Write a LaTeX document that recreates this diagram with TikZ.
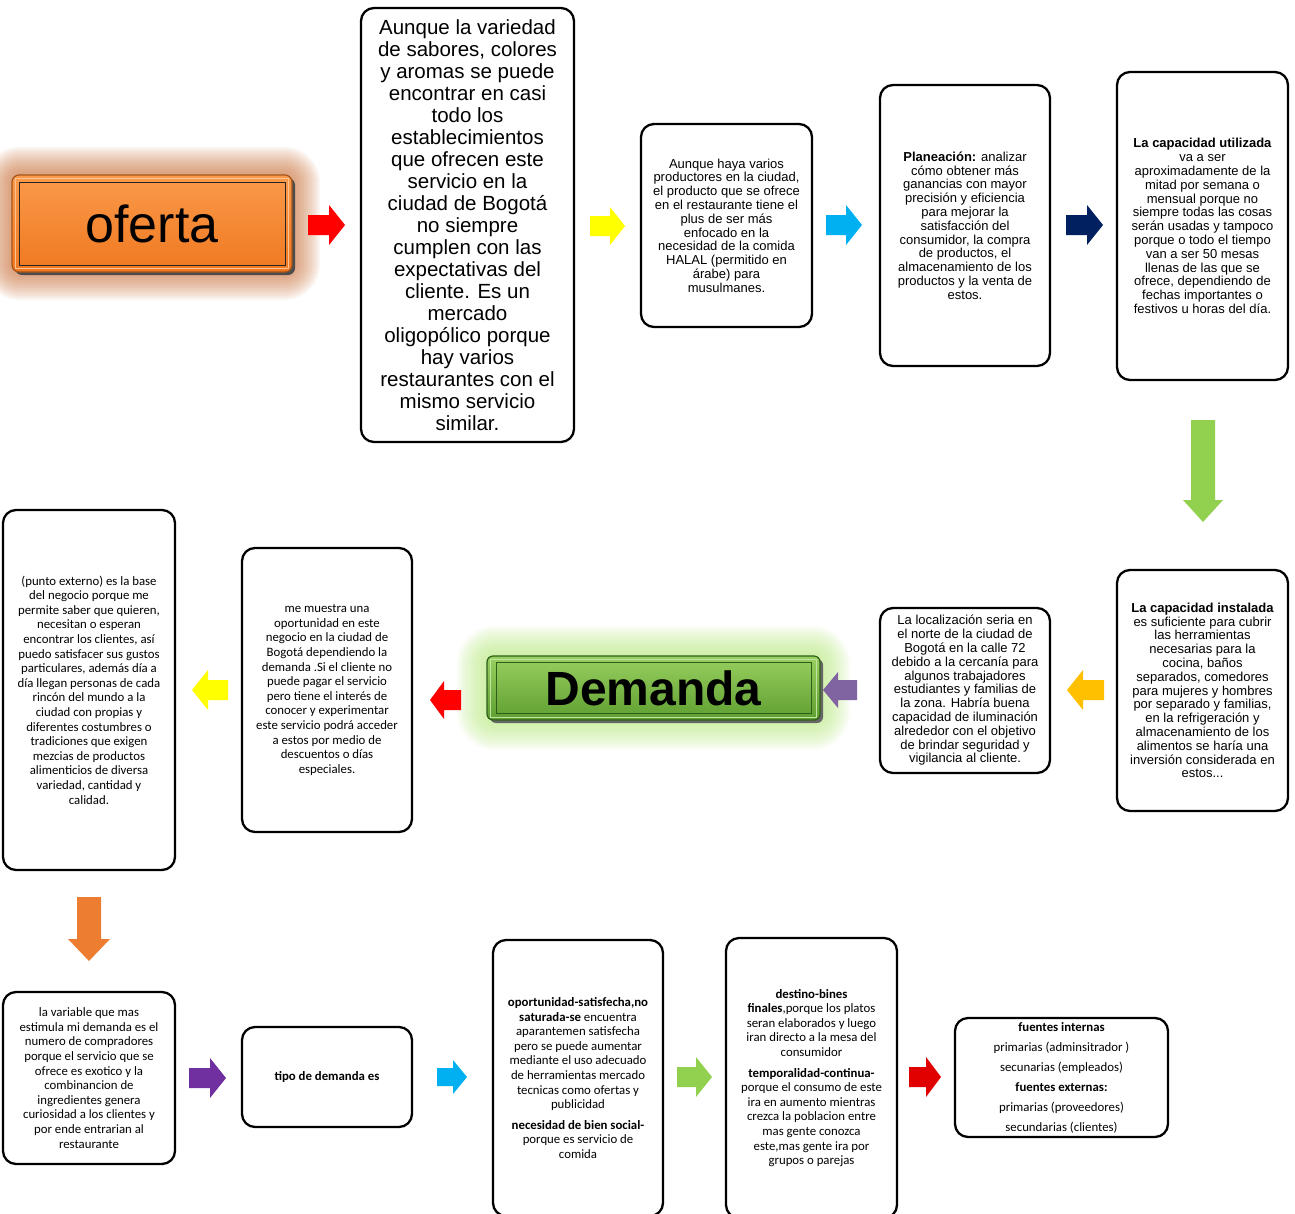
\documentclass[tikz,border=0pt]{standalone}
\usepackage{fontspec}
\setmainfont{Liberation Sans}
\newfontfamily\calfont{Carlito}
\definecolor{cRed}{HTML}{FF0000}
\definecolor{cYellow}{HTML}{FFFF00}
\definecolor{cCyan}{HTML}{00B0F0}
\definecolor{cNavy}{HTML}{002060}
\definecolor{cGreen}{HTML}{92D050}
\definecolor{cGold}{HTML}{FFC000}
\definecolor{cLPurple}{HTML}{8064A2}
\definecolor{cOrange}{HTML}{ED7D31}
\definecolor{cPurple}{HTML}{7030A0}
\definecolor{cDRed}{HTML}{E00000}
\definecolor{ofTop}{HTML}{FA9A4A}
\definecolor{ofBot}{HTML}{F07820}
\definecolor{ofEdge}{HTML}{A85418}
\definecolor{ofGlow}{HTML}{C8703A}
\definecolor{deTop}{HTML}{98D060}
\definecolor{deBot}{HTML}{5E9E30}
\definecolor{deEdge}{HTML}{2E5E18}
\definecolor{deGlow}{HTML}{B8E880}
\newcommand\barr[8]{%
  \fill[#8, shift={(#1,#2)}, rotate=#7]
    ({-#3/2},{-#5/2}) -- ({#3/2-#6},{-#5/2}) -- ({#3/2-#6},{-#4/2}) -- ({#3/2},0)
    -- ({#3/2-#6},{#4/2}) -- ({#3/2-#6},{#5/2}) -- ({-#3/2},{#5/2}) -- cycle;}
\begin{document}
\begin{tikzpicture}[x=1pt,y=1pt,
  box/.style={draw=black, line width=2.3pt, rounded corners=13pt, fill=white, inner sep=0pt, align=center},
  ar/.style={font=\fontsize{13}{13.8}\selectfont},
  big/.style={font=\fontsize{20.5}{22}\selectfont},
  cb/.style={font=\calfont\fontsize{12.8}{14.6}\selectfont},
  cbw/.style={font=\calfont\fontsize{12.8}{20}\selectfont},
]
\useasboundingbox (0,0) rectangle (1295,-1213);

% ---------- glows ----------
\foreach \i in {1,...,14}
  \fill[ofGlow, opacity=0.07, rounded corners={8+2*\i}]
    ({12-2*\i},{-175+2*\i}) rectangle ({292+2*\i},{-272-2*\i});
\foreach \i in {1,...,15}
  \fill[deGlow, opacity=0.07, rounded corners={8+2*\i}]
    ({487-2*\i},{-656+2*\i}) rectangle ({820+2*\i},{-720-2*\i});

% ---------- oferta ----------
\fill[black!70, rounded corners=7] (15,-178) rectangle (295,-275);
\node (oferta) [minimum width=280, minimum height=97, inner sep=0pt, rounded corners=7,
  top color=ofTop, bottom color=ofBot, draw=ofEdge, line width=1.2,
  font=\fontsize{52}{54}\selectfont] at (152,-223.5) {oferta};
\draw[black!85, line width=1.3] ([shift={(8,-8)}]oferta.north west) rectangle ([shift={(-7,7)}]oferta.south east);
\draw[ofTop!60!white, line width=0.8] ([shift={(4,-4)}]oferta.north west) rectangle ([shift={(-4,4)}]oferta.south east);

% ---------- Demanda ----------
\fill[black!60, rounded corners=6] (490,-659) rectangle (823,-723);
\node (demanda) [minimum width=333, minimum height=64, inner sep=0pt, rounded corners=6,
  top color=deTop, bottom color=deBot, draw=deEdge, line width=1.2,
  font=\bfseries\fontsize{48}{50}\selectfont] at (653.5,-688) {Demanda};
\draw[deEdge, line width=1.5] ([shift={(10,-7)}]demanda.north west) rectangle ([shift={(-9,7)}]demanda.south east);
\draw[deTop!60!white, line width=0.8] ([shift={(4,-3.5)}]demanda.north west) rectangle ([shift={(-4,3.5)}]demanda.south east);

% ---------- top row ----------
\node (b1) [box, big, minimum width=213, minimum height=434] at (467.5,-225) {Aunque la variedad\\de sabores, colores\\y aromas se puede\\encontrar en casi\\todo los\\establecimientos\\que ofrecen este\\servicio en la\\ciudad de Bogotá\\no siempre\\cumplen con las\\expectativas del\\cliente. Es un\\mercado\\oligopólico porque\\hay varios\\restaurantes con el\\mismo servicio\\similar.};

\node (b2) [box, ar, minimum width=171, minimum height=203] at (726.5,-225.5) {Aunque haya varios\\productores en la ciudad,\\el producto que se ofrece\\en el restaurante tiene el\\plus de ser más\\enfocado en la\\necesidad de la comida\\HALAL (permitido en\\árabe) para\\musulmanes.};

\node (b3) [box, ar, minimum width=170, minimum height=281] at (965,-225.5) {\textbf{Planeación:} analizar\\cómo obtener más\\ganancias con mayor\\precisión y eficiencia\\para mejorar la\\satisfacción del\\consumidor, la compra\\de productos, el\\almacenamiento de los\\productos y la venta de\\estos.};

\node (b4) [box, ar, minimum width=171, minimum height=308] at (1202.5,-226) {\textbf{La capacidad utilizada}\\va a ser\\aproximadamente de la\\mitad por semana o\\mensual porque no\\siempre todas las cosas\\serán usadas y tampoco\\porque o todo el tiempo\\van a ser 50 mesas\\llenas de las que se\\ofrece, dependiendo de\\fechas importantes o\\festivos u horas del día.};

% ---------- middle row ----------
\node (b5) [box, ar, minimum width=171, minimum height=241] at (1202.5,-690.5) {\textbf{La capacidad instalada}\\es suficiente para cubrir\\las herramientas\\necesarias para la\\cocina, baños\\separados, comedores\\para mujeres y hombres\\por separado y familias,\\en la refrigeración y\\almacenamiento de los\\alimentos se haría una\\inversión considerada en\\estos...};

\node (b6) [box, ar, minimum width=170, minimum height=165] at (965,-690.5) {La localización seria en\\el norte de la ciudad de\\Bogotá en la calle 72\\debido a la cercanía para\\algunos trabajadores\\estudiantes y familias de\\la zona. Habría buena\\capacidad de iluminación\\alrededor con el objetivo\\de brindar seguridad y\\vigilancia al cliente.};

\node (b7) [box, cb, minimum width=170, minimum height=284] at (327,-690) {me muestra una\\oportunidad en este\\negocio en la ciudad de\\Bogotá dependiendo la\\demanda .Si el cliente no\\puede pagar el servicio\\pero tiene el interés de\\conocer y experimentar\\este servicio podrá acceder\\a estos por medio de\\descuentos o días\\especiales.};

\node (b8) [box, cb, minimum width=172, minimum height=360] at (89,-690) {(punto externo) es la base\\del negocio porque me\\permite saber que quieren,\\necesitan o esperan\\encontrar los clientes, así\\puedo satisfacer sus gustos\\particulares, además día a\\día llegan personas de cada\\rincón del mundo a la\\ciudad con propias y\\diferentes costumbres o\\tradiciones que exigen\\mezcias de productos\\alimenticios de diversa\\variedad, cantidad y\\calidad.};

% ---------- bottom row ----------
\node (b9) [box, cb, minimum width=172, minimum height=172] at (89,-1078) {la variable que mas\\estimula mi demanda es el\\numero de compradores\\porque el servicio que se\\ofrece es exotico y la\\combinancion de\\ingredientes genera\\curiosidad a los clientes y\\por ende entrarian al\\restaurante};

\node (b10) [box, cb, minimum width=170, minimum height=100] at (327,-1077) {\textbf{tipo de demanda es}};

\node (b11) [box, cb, minimum width=170, minimum height=276] at (578,-1078) {\textbf{oportunidad-satisfecha,no}\\\textbf{saturada-se} encuentra\\aparantemen satisfecha\\pero se puede aumentar\\mediante el uso adecuado\\de herramientas mercado\\tecnicas como ofertas y\\publicidad\\[6pt]\textbf{necesidad de bien social-}\\porque es servicio de\\comida};

\node (b12) [box, cb, minimum width=171, minimum height=280] at (811.5,-1078) {\textbf{destino-bines}\\\textbf{finales},porque los platos\\seran elaborados y luego\\iran directo a la mesa del\\consumidor\\[6pt]\textbf{temporalidad-continua-}\\porque el consumo de este\\ira en aumento mientras\\crezca la poblacion entre\\mas gente conozca\\este,mas gente ira por\\grupos o parejas};

\node (b13) [box, cbw, minimum width=213, minimum height=119] at (1061.5,-1077.5) {\textbf{fuentes internas}\\primarias (adminsitrador )\\secunarias (empleados)\\\textbf{fuentes externas:}\\primarias (proveedores)\\secundarias (clientes)};

% ---------- block arrows ----------
% cx cy len headw shaftw headlen angle color
\barr{326.5}{-225}{37}{40}{20}{16}{0}{cRed}
\barr{607.5}{-226}{35}{38}{20}{15}{0}{cYellow}
\barr{844}{-225}{36}{40}{20}{16}{0}{cCyan}
\barr{1084.5}{-225}{37}{40}{20}{16}{0}{cNavy}
\barr{1203}{-471}{102}{40}{24}{22}{-90}{cGreen}
\barr{1085.5}{-690}{37}{40}{20}{16}{180}{cGold}
\barr{840}{-690}{34}{36}{20}{15}{180}{cLPurple}
\barr{445.5}{-700}{31}{38}{20}{14}{180}{cRed}
\barr{210}{-690}{36}{40}{20}{16}{180}{cYellow}
\barr{89}{-929}{64}{42}{24}{22}{-90}{cOrange}
\barr{207.5}{-1078}{37}{40}{20}{16}{0}{cPurple}
\barr{452}{-1077}{30}{34}{18}{14}{0}{cCyan}
\barr{694.5}{-1077}{35}{40}{20}{16}{0}{cGreen}
\barr{925}{-1077}{32}{40}{20}{15}{0}{cDRed}
\end{tikzpicture}
\end{document}
